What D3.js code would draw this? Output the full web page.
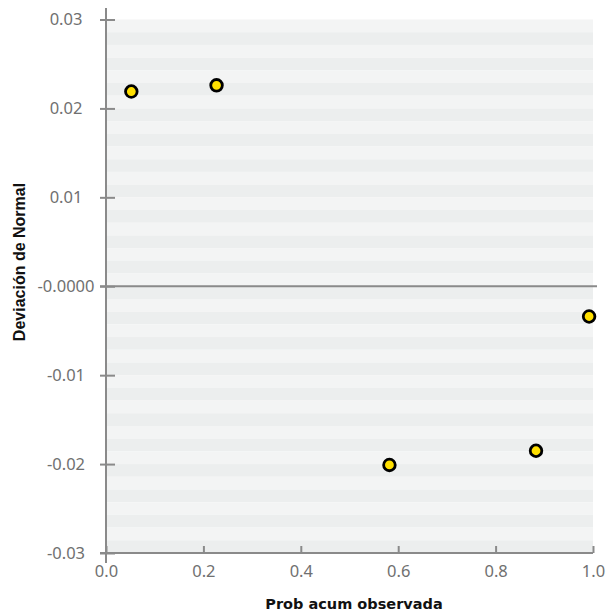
<!DOCTYPE html>
<html>
<head>
<meta charset="utf-8">
<script src="https://cdn.jsdelivr.net/npm/d3@7"></script>
<style>
  body { margin: 0; background: #fff; }
  .tick text { font-family: "Noto Sans", "DejaVu Sans", sans-serif; font-size: 16.5px; fill: #707070; }
</style>
</head>
<body>
<div id="container"></div>
<script>
// data
const probAcum = [0.052, 0.227, 0.582, 0.883, 0.992];
const deviacion = [0.0219, 0.0226, -0.0201, -0.0185, -0.0034];
const xTicks = [0, 0.2, 0.4, 0.6, 0.8, 1.0];
const yTicks = [-0.03, -0.02, -0.01, 0, 0.01, 0.02, 0.03];

const width = 606;
const height = 615;
const axisColor = '#8a8a8a';

const svg = d3.select('#container')
    .append('svg')
    .attr('width', width)
    .attr('height', height);

// scales
const xScale = d3.scaleLinear().domain([0, 1]).range([106, 593]);
const yScale = d3.scaleLinear().domain([-0.03, 0.03]).range([553, 19.5]);

// striped background
const nBands = 42;
const bands = d3.range(nBands);
const step = 0.06 / nBands;
svg.append('g')
    .selectAll('rect')
    .data(bands)
    .enter()
    .append('rect')
    .attr('x', xScale(0))
    .attr('width', xScale(1) - xScale(0))
    .attr('y', (d) => yScale(0.03 - d * step))
    .attr('height', (d) => yScale(0.03 - (d + 1) * step) - yScale(0.03 - d * step))
    .style('fill', (d) => d % 2 === 0 ? '#f3f4f4' : '#eceeee');

// plain hyphen instead of the unicode minus
const fmt2 = (d) => d3.format('.2f')(d).replace('\u2212', '-');

// y axis
const yAxis = d3.axisLeft(yScale)
    .tickValues(yTicks)
    .tickFormat((d) => d === 0 ? '-0.0000' : fmt2(d))
    .tickSize(6);

const gy = svg.append('g')
    .attr('transform', `translate(${xScale(0)}, 0)`)
    .call(yAxis);
gy.select('.domain').remove();
gy.selectAll('.tick line')
    .attr('x1', -6)
    .attr('x2', 9)
    .style('stroke', axisColor)
    .style('stroke-width', 2);
gy.selectAll('.tick text')
    .attr('x', -40)
    .attr('text-anchor', 'middle');

// x axis
const xAxis = d3.axisBottom(xScale)
    .tickValues(xTicks)
    .tickFormat(d3.format('.1f'))
    .tickSize(0)
    .tickPadding(4);

const gx = svg.append('g')
    .attr('transform', `translate(0, ${yScale(-0.03)})`)
    .call(xAxis);
gx.select('.domain').remove();
gx.selectAll('.tick line')
    .attr('y1', -7)
    .attr('y2', 0)
    .style('stroke', axisColor)
    .style('stroke-width', 2);
gx.selectAll('.tick text')
    .attr('y', 24)
    .attr('dy', null);

// axis lines
svg.append('line')
    .attr('x1', xScale(0) - 6)
    .attr('x2', xScale(1))
    .attr('y1', yScale(-0.03))
    .attr('y2', yScale(-0.03))
    .style('stroke', axisColor)
    .style('stroke-width', 2);

svg.append('line')
    .attr('x1', xScale(0))
    .attr('x2', xScale(0))
    .attr('y1', 8)
    .attr('y2', yScale(-0.03) + 10)
    .style('stroke', axisColor)
    .style('stroke-width', 2);

// zero line
svg.append('line')
    .attr('x1', xScale(0) - 6)
    .attr('x2', xScale(1) + 4)
    .attr('y1', yScale(0))
    .attr('y2', yScale(0))
    .style('stroke', axisColor)
    .style('stroke-width', 2);

// points
svg.selectAll('circle')
    .data(probAcum)
    .enter()
    .append('circle')
    .attr('cx', (d) => xScale(d))
    .attr('cy', (d, i) => yScale(deviacion[i]))
    .attr('r', 5.8)
    .style('fill', '#ffdf00')
    .style('stroke', '#000')
    .style('stroke-width', 2.8);

// axis titles
svg.append('text')
    .attr('x', 354)
    .attr('y', 609)
    .attr('text-anchor', 'middle')
    .style('font-family', '"DejaVu Sans", Verdana, sans-serif')
    .style('font-weight', 'bold')
    .style('font-size', '14.5px')
    .style('fill', '#111')
    .text('Prob acum observada');

svg.append('text')
    .attr('transform', 'translate(25, 262) rotate(-90)')
    .attr('text-anchor', 'middle')
    .style('font-family', '"Liberation Sans", Arial, sans-serif')
    .style('font-weight', 'bold')
    .style('font-size', '16px')
    .style('fill', '#111')
    .text('Deviación de Normal');
</script>
</body>
</html>
